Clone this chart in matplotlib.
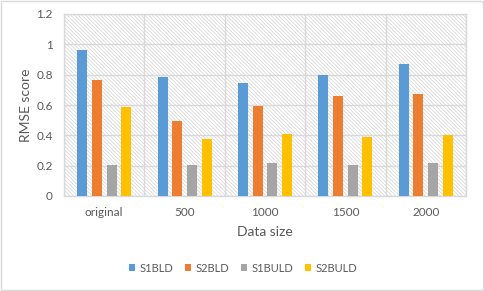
import matplotlib
matplotlib.use("Agg")
import matplotlib.pyplot as plt
import numpy as np
from matplotlib.patches import Rectangle

categories = ["original", "500", "1000", "1500", "2000"]
series_names = ["S1BLD", "S2BLD", "S1BULD", "S2BULD"]
s1bld = [0.962, 0.785, 0.745, 0.798, 0.870]
s2bld = [0.765, 0.494, 0.593, 0.659, 0.672]
s1buld = [0.204, 0.204, 0.218, 0.204, 0.218]
s2buld = [0.587, 0.376, 0.409, 0.389, 0.402]
yticks = [0, 0.2, 0.4, 0.6, 0.8, 1, 1.2]
ytick_labels = ["0", "0.2", "0.4", "0.6", "0.8", "1", "1.2"]
colors = ["#5b9bd5", "#ed7d31", "#a5a5a5", "#ffc000"]

plt.rcParams['font.family'] = ['Lato', 'DejaVu Sans']
plt.rcParams['hatch.linewidth'] = 0.5
text_color = "#595959"
grid_color = "#d9d9d9"

fig = plt.figure(figsize=(4.84, 2.91), dpi=100)
ax = fig.add_axes([64/484, 1 - 196/291, 402/484, 182/291])

# hatched background
bg = Rectangle((0, 0), 1, 1, transform=ax.transAxes, facecolor="white",
               edgecolor="#d4d4d4", hatch="\\" * 9, linewidth=0, zorder=0)
ax.add_patch(bg)

x = np.arange(len(categories))
data = [s1bld, s2bld, s1buld, s2buld]
step = 0.183
width = 0.124
for i, (vals, name, c) in enumerate(zip(data, series_names, colors)):
    ax.bar(x + (i - 1.5) * step, vals, width=width, color=c, label=name, zorder=3)

ax.set_xlim(-0.5, len(categories) - 0.5)
ax.set_ylim(0, 1.2)
ax.set_yticks(yticks)
ax.set_yticklabels(ytick_labels)
ax.set_xticks(x)
ax.set_xticklabels(categories)

# gridlines
for yv in yticks:
    ax.axhline(yv, color=grid_color, linewidth=1.0, zorder=1)
for xv in np.arange(-0.5, len(categories), 1.0):
    ax.axvline(xv, color=grid_color, linewidth=1.0, zorder=1)

for s in ax.spines.values():
    s.set_color(grid_color)
    s.set_linewidth(1.0)
ax.tick_params(length=0, colors=text_color, labelsize=8.5)
ax.tick_params(axis='y', pad=8)
ax.tick_params(axis='x', pad=8)

ax.set_ylabel("RMSE score", color=text_color, fontsize=10, labelpad=3)
ax.set_xlabel("Data size", color=text_color, fontsize=10, labelpad=6)

leg = fig.legend(loc="center", bbox_to_anchor=(243/484, 1 - 268/291), ncol=4,
                 frameon=False, fontsize=8, handlelength=0.6, handleheight=0.6,
                 handletextpad=0.4, columnspacing=1.0, labelcolor=text_color)

fig.patches.append(Rectangle((0.002, 0.003), 0.996, 0.994, transform=fig.transFigure,
                             fill=False, edgecolor="#d9d9d9", linewidth=1.0))

fig.savefig("out.png", dpi=100)
